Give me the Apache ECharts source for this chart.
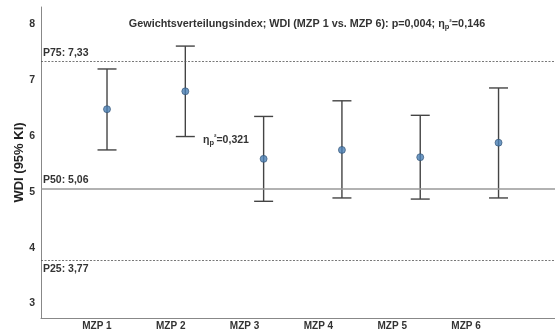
<!DOCTYPE html>
<html>
<head>
<meta charset="utf-8">
<script src="https://cdn.jsdelivr.net/npm/echarts@6/dist/echarts.min.js"></script>
<style>
  html, body { margin: 0; padding: 0; background: #fff; }
  #chart { width: 555px; height: 332px; }
</style>
</head>
<body>
<div id="chart"></div>
<script>
// Messzeitpunkte (MZP) mit Mittelwert und 95%-Konfidenzintervall
const categories = ['MZP 1', 'MZP 2', 'MZP 3', 'MZP 4', 'MZP 5', 'MZP 6'];
const means   = [6.48, 6.80, 5.59, 5.75, 5.62, 5.88];
const ciLower = [5.75, 5.99, 4.83, 4.89, 4.87, 4.89];
const ciUpper = [7.20, 7.61, 6.35, 6.63, 6.37, 6.86];

// Perzentil-Referenzlinien
const refNames  = ['P75', 'P50', 'P25'];
const refValues = [7.33, 5.06, 3.77];

const yTicks = [3, 4, 5, 6, 7, 8];

const titleText = 'Gewichtsverteilungsindex; WDI (MZP 1 vs. MZP 6): p=0,004; η{sub|p}{sup|²}=0,146';
const effectText = 'η{sub|p}{sup|²}=0,321';

const fmt = v => v.toFixed(2).replace('.', ',');
const font = '"Liberation Sans", Arial, sans-serif';
const richSub = {
  sub: { fontSize: 7.5, fontWeight: 'bold', color: '#333', fontFamily: font, padding: [5, 0, 0, 0] },
  sup: { fontSize: 7.5, fontWeight: 'bold', color: '#333', fontFamily: font, padding: [0, 0, 4, 0] }
};

const chart = echarts.init(document.getElementById('chart'), null, { renderer: 'canvas' });

const lineStyles = [
  { type: [2, 1.5], color: '#555', width: 0.8 },
  { type: 'solid', color: '#999', width: 1.5 },
  { type: [2, 1.5], color: '#555', width: 0.8 }
];

chart.setOption({
  animation: false,
  backgroundColor: '#fff',
  textStyle: { fontFamily: font },
  title: {
    text: titleText,
    left: 302,
    top: 13,
    textAlign: 'center',
    textStyle: {
      fontSize: 10.8, fontWeight: 'bold', color: '#333', fontFamily: font,
      rich: richSub
    }
  },
  grid: [
    { left: 41, right: 0, top: 7, bottom: 14 },
    { left: 60, width: 443, top: 7, bottom: 14 }
  ],
  xAxis: [
    {
      type: 'value', gridIndex: 0, min: 0.157, max: 6.721,
      axisLine: { show: true, lineStyle: { color: '#888', width: 1 } },
      axisTick: { show: false }, axisLabel: { show: false }, splitLine: { show: false }
    },
    {
      type: 'category', gridIndex: 1, data: categories,
      axisLine: { show: false }, axisTick: { show: false },
      axisLabel: { margin: 3, fontSize: 10, fontWeight: 'bold', color: '#333', fontFamily: font }
    }
  ],
  yAxis: [
    {
      type: 'value', gridIndex: 0, min: 2.74, max: 8.31,
      name: 'WDI (95% KI)', nameLocation: 'middle', nameGap: 15, nameRotate: 90,
      nameMoveOverlap: false,
      nameTextStyle: { fontSize: 13, fontWeight: 'bold', color: '#222', fontFamily: font },
      axisLine: { show: true, lineStyle: { color: '#888', width: 1 } },
      axisTick: { show: false },
      axisLabel: {
        customValues: yTicks, margin: 6,
        fontSize: 10.5, fontWeight: 'bold', color: '#333', fontFamily: font
      },
      splitLine: { show: false }
    },
    { type: 'value', gridIndex: 1, min: 2.74, max: 8.31, show: false }
  ],
  series: [
    {
      type: 'custom',
      xAxisIndex: 0, yAxisIndex: 0,
      data: categories.map((c, i) => [i + 1, ciLower[i], ciUpper[i]]),
      renderItem: function (params, api) {
        const x = api.value(0);
        const lo = api.coord([x, api.value(1)]);
        const hi = api.coord([x, api.value(2)]);
        const half = 9.5;
        const style = { stroke: '#444', lineWidth: 1.4 };
        return {
          type: 'group',
          children: [
            { type: 'line', shape: { x1: hi[0], y1: hi[1], x2: lo[0], y2: lo[1] }, style },
            { type: 'line', shape: { x1: hi[0] - half, y1: hi[1], x2: hi[0] + half, y2: hi[1] }, style },
            { type: 'line', shape: { x1: lo[0] - half, y1: lo[1], x2: lo[0] + half, y2: lo[1] }, style }
          ]
        };
      },
      z: 3
    },
    {
      type: 'scatter',
      xAxisIndex: 0, yAxisIndex: 0,
      data: means.map((m, i) => [i + 1, m]),
      symbolSize: 7,
      itemStyle: { color: '#4a7fb5', borderColor: '#2f4f6f', borderWidth: 0.8 },
      z: 4,
      markLine: {
        silent: true,
        symbol: 'none',
        data: refValues.map((v, i) => ({
          yAxis: v,
          lineStyle: lineStyles[i],
          label: {
            show: true,
            position: i === 2 ? 'insideStartBottom' : 'insideStartTop',
            distance: [2, 3],
            formatter: refNames[i] + ': ' + fmt(v),
            fontSize: 10.5, fontWeight: 'bold', color: '#333', fontFamily: font
          }
        }))
      }
    }
  ],
  graphic: [
    {
      type: 'text',
      left: 203, top: 134,
      style: {
        text: effectText,
        fontSize: 10.5, fontWeight: 'bold', fill: '#333', fontFamily: font,
        rich: richSub
      }
    }
  ]
});
</script>
</body>
</html>
